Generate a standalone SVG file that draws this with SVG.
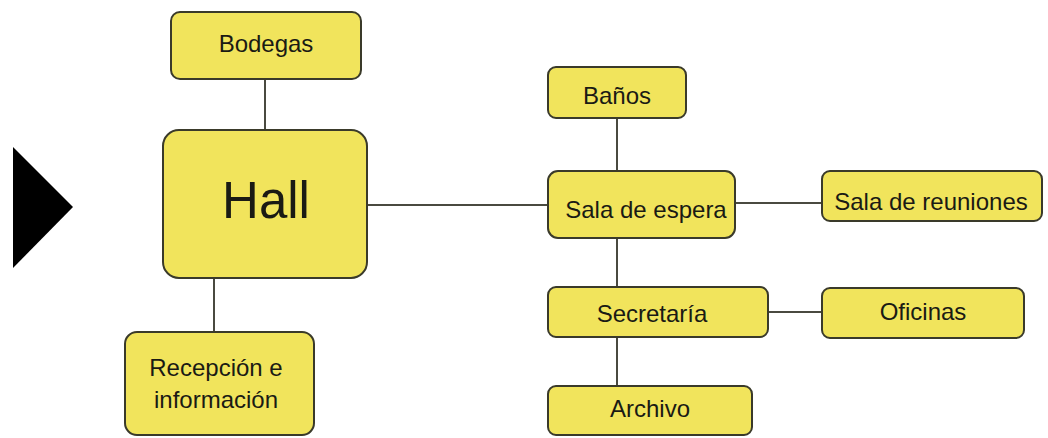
<svg xmlns="http://www.w3.org/2000/svg" width="1048" height="438" viewBox="0 0 1048 438">
<style>
.box{fill:#F1E45C;stroke:#3A3A2A;stroke-width:2}
.t{font-family:"Liberation Sans",Arial,sans-serif;font-size:24px;fill:#1a1a14;text-anchor:middle}
.c{stroke:#4a4a40;stroke-width:2;fill:none}
</style>
<rect width="1048" height="438" fill="#ffffff"/>
<polygon points="13,147 73,207 13,268" fill="#000000"/>
<g id="connectors">
<line class="c" x1="265" y1="79" x2="265" y2="130"/>
<line class="c" x1="214" y1="278" x2="214" y2="332"/>
<line class="c" x1="367" y1="205" x2="548" y2="205"/>
<line class="c" x1="617" y1="118" x2="617" y2="171"/>
<line class="c" x1="735" y1="203" x2="822" y2="203"/>
<line class="c" x1="617" y1="238" x2="617" y2="287"/>
<line class="c" x1="768" y1="312" x2="822" y2="312"/>
<line class="c" x1="617" y1="337" x2="617" y2="386"/>
</g>
<g id="bodegas"><rect class="box" x="171" y="12" width="190" height="67" rx="9"/><text class="t" x="266" y="52">Bodegas</text></g>
<g id="hall"><rect class="box" x="163" y="130" width="204" height="148" rx="16"/><text class="t" x="266" y="218" style="font-size:51px">Hall</text></g>
<g id="recepcion"><rect class="box" x="125" y="332" width="189" height="103" rx="12"/><text class="t" x="216" y="376">Recepción e</text><text class="t" x="216" y="408">información</text></g>
<g id="banos"><rect class="box" x="548" y="67" width="138" height="51" rx="8"/><text class="t" x="617" y="104">Baños</text></g>
<g id="sala-espera"><rect class="box" x="548" y="171" width="187" height="67" rx="10"/><text class="t" x="646" y="218">Sala de espera</text></g>
<g id="sala-reuniones"><rect class="box" x="822" y="171" width="220" height="50" rx="8"/><text class="t" x="931" y="210">Sala de reuniones</text></g>
<g id="secretaria"><rect class="box" x="548" y="287" width="220" height="50" rx="8"/><text class="t" x="652" y="322">Secretaría</text></g>
<g id="oficinas"><rect class="box" x="822" y="288" width="202" height="50" rx="8"/><text class="t" x="923" y="320">Oficinas</text></g>
<g id="archivo"><rect class="box" x="548" y="386" width="204" height="49" rx="8"/><text class="t" x="650" y="417">Archivo</text></g>
</svg>
